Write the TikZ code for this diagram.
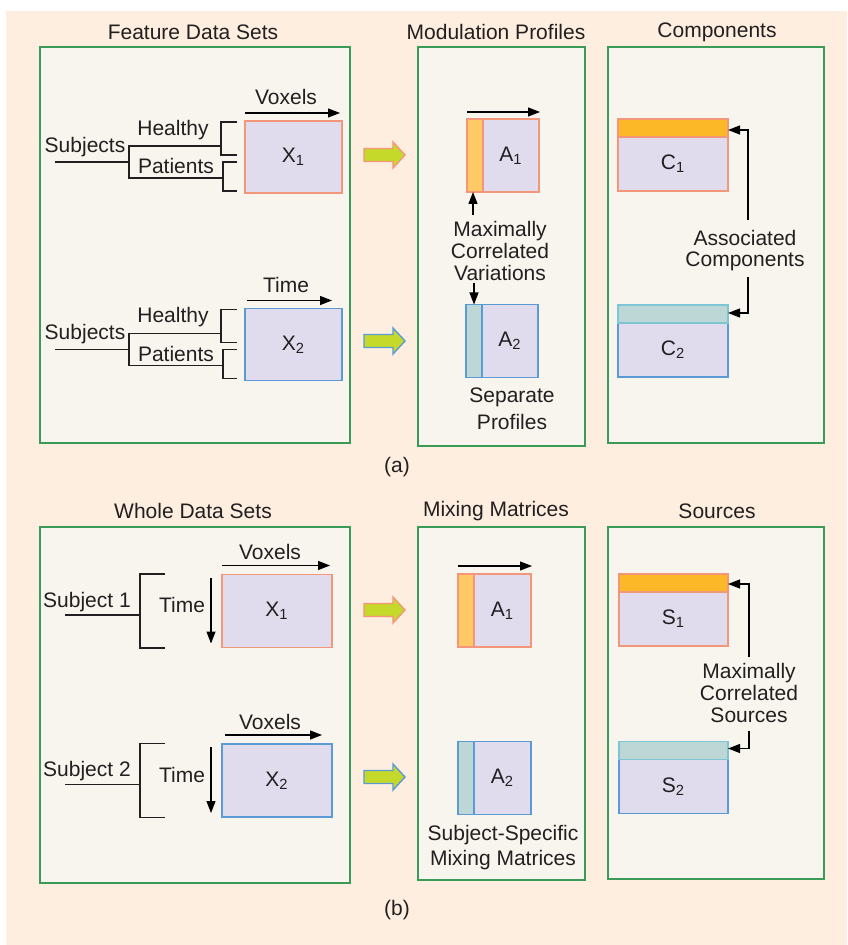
\documentclass[tikz,border=0pt]{standalone}
\usepackage{fontspec}
\setmainfont{Liberation Sans}
\usetikzlibrary{arrows.meta,calc}

\definecolor{peach}{HTML}{FDEEDF}
\definecolor{panelfill}{HTML}{F8F5EE}
\definecolor{panelgreen}{HTML}{3A9A57}
\definecolor{matfill}{HTML}{E0DCEE}
\definecolor{orangeline}{HTML}{F4967A}
\definecolor{blueline}{HTML}{5B9BD5}
\definecolor{cyanline}{HTML}{7CC6D6}
\definecolor{stripA}{HTML}{FFC966}
\definecolor{headC}{HTML}{FDB827}
\definecolor{stripB}{HTML}{BDD6D6}
\definecolor{arrowgreen}{HTML}{C5D92B}
\definecolor{txtgray}{HTML}{231F20}

\newcommand{\lblfont}{\fontsize{10.5}{10.8}\selectfont}

\tikzset{
  panel/.style={draw=panelgreen, fill=panelfill, line width=0.6pt},
  matbox/.style={fill=matfill, line width=0.7pt, inner sep=0pt, outer sep=0pt},
  lbl/.style={font=\lblfont, text=txtgray, inner sep=0pt},
  tree/.style={line width=0.65pt, draw=txtgray},
  arr/.style={-{Triangle[length=6pt,width=4.5pt]}, line width=0.6pt, draw=black},
  fatarrow/.style={fill=arrowgreen, line width=0.7pt, line join=miter}
}

\begin{document}
\begin{tikzpicture}[x=0.5pt, y=-0.5pt]
    \useasboundingbox (0,0) rectangle (847,945);
    \fill[peach] (6,11) rectangle (847,945);

    % panels and titles
    \foreach \xa/\ya/\xb/\yb in {40/47/350/443, 418/47/585/446, 608/47/824/443,
                                 40/527/350/883, 418/527/585/880, 608/527/824/879}
        \draw[panel] (\xa,\ya) rectangle (\xb,\yb);

    \node[lbl] (tFeat) at (193,32) {Feature Data Sets};
    \node[lbl] (tMod) at (496,32) {Modulation Profiles};
    \node[lbl] (tComp) at (717,32) {Components};
    \node[lbl] (tWhole) at (193,511) {Whole Data Sets};
    \node[lbl] (tMix) at (496,511) {Mixing Matrices};
    \node[lbl] (tSrc) at (717,511) {Sources};
    \node[lbl] (capA) at (397,467) {(a)};
    \node[lbl] (capB) at (397,910) {(b)};

    % green arrows between panels
    \foreach \cy/\col in {155/orangeline, 341/blueline, 610/orangeline, 777/blueline}
        \draw[fatarrow, draw=\col] (364,\cy-6.5) -- (393,\cy-6.5) -- (393,\cy-13) -- (405,\cy)
            -- (393,\cy+13) -- (393,\cy+6.5) -- (364,\cy+6.5) -- cycle;

    % (a) feature data sets
    \foreach \i/\oy/\col/\ax/\xs/\xe in {1/0/orangeline/Voxels/0pt/-1pt, 2/187.5/blueline/Time/1pt/-5pt} {
        \node[matbox, draw=\col, minimum width=48.5pt, minimum height=36pt] (fX\i) at (293.5,157+\oy) {};
        \node[lbl] (fXl\i) at (fX\i.center) {X\textsubscript{\i}};
        \node[lbl] (fAx\i) at (286,97+\oy) {\ax};
        \draw[arr] ([xshift=\xs,yshift=4pt]fX\i.north west) -- ([xshift=\xe,yshift=4pt]fX\i.north east);
        \node[lbl] (fSub\i) at (85,147+\oy) {Subjects};
        \node[lbl] (fHea\i) at (173,130+\oy) {Healthy};
        \node[lbl] (fPat\i) at (176,166+\oy) {Patients};
        \draw[tree] (55,162+\oy) -- (129,162+\oy);
        \draw[tree] (221,146+\oy) -- (129,146+\oy) -- (129,178+\oy) -- (223,178+\oy);
        \draw[tree] (237,122+\oy) -- (221,122+\oy) -- (221,155+\oy) -- (237,155+\oy);
        \draw[tree] (237,162+\oy) -- (223,162+\oy) -- (223,191+\oy) -- (237,191+\oy);
    }

    % (a) modulation profiles
    \foreach \i/\cx/\cy/\col/\sc in {1/503/155.5/orangeline/stripA, 2/502/341/blueline/stripB} {
        \node[matbox, draw=\col, minimum width=36pt, minimum height=36.5pt] (mA\i) at (\cx,\cy) {};
        \draw[fill=\sc, draw=\col, line width=0.7pt] (mA\i.north west) rectangle ([xshift=8pt]mA\i.south west);
        \node[lbl] (mAl\i) at ([xshift=4pt]mA\i.center) {A\textsubscript{\i}};
    }
    \draw[arr] ([yshift=3.5pt]mA1.north west) -- ([xshift=0.5pt,yshift=3.5pt]mA1.north east);
    \node[lbl, align=center] (mVar) at (500,251) {Maximally\\Correlated\\Variations};
    \coordinate (mTip1) at ([xshift=3pt]mA1.south west);
    \coordinate (mTip2) at ([xshift=4pt]mA2.north west);
    \coordinate (mVarTop) at ([yshift=3pt]mVar.north);
    \coordinate (mVarBot) at ([yshift=-1pt]mVar.south);
    \draw[arr] (mVarTop -| mTip1) -- (mTip1);
    \draw[arr] (mVarBot -| mTip2) -- (mTip2);
    \node[lbl, align=center] (mSep) at (512,409) {Separate\\[2.5pt]Profiles};

    % (a) components
    \foreach \i/\cy/\col/\hc/\hl in {1/155/orangeline/headC/orangeline, 2/341/blueline/stripB/cyanline} {
        \node[matbox, draw=\col, minimum width=55pt, minimum height=36pt] (C\i) at (673,\cy) {};
        \draw[fill=\hc, draw=\hl, line width=0.7pt] (C\i.north west) rectangle ([yshift=-9pt]C\i.north east);
        \node[lbl] (Cl\i) at ([yshift=-4.5pt]C\i.center) {C\textsubscript{\i}};
    }
    \node[lbl, align=center] (cAsc) at (745,250.5) {Associated\\Components};
    \draw[arr] ([xshift=1.5pt,yshift=5pt]cAsc.north) |- ([yshift=-5.5pt]C1.north east);
    \draw[arr] ([xshift=1.5pt,yshift=-3pt]cAsc.south) |- ([yshift=-4pt]C2.north east);

    % (b) whole data sets
    \foreach \i/\oy/\col/\xs/\xe in {1/0/orangeline/0pt/-1pt, 2/169.5/blueline/1.5pt/-5pt} {
        \node[matbox, draw=\col, minimum width=55pt, minimum height=36.5pt] (wX\i) at (277,611+\oy) {};
        \node[lbl] (wXl\i) at (wX\i.center) {X\textsubscript{\i}};
        \node[lbl] (wAx\i) at (270,552+\oy) {Voxels};
        \draw[arr] ([xshift=\xs,yshift=4.5pt]wX\i.north west) -- ([xshift=\xe,yshift=4.5pt]wX\i.north east);
        \node[lbl] (wSub\i) at (87,602+\oy) {Subject \i};
        \node[lbl] (wTim\i) at (182,605+\oy) {Time};
        \draw[tree] (65,615+\oy) -- (140,615+\oy);
        \draw[tree] (165,574+\oy) -- (140,574+\oy) -- (140,648+\oy) -- (165,648+\oy);
        \draw[arr] ([xshift=-5.5pt,yshift=-1.5pt]wX\i.north west) -- ([xshift=-5.5pt,yshift=2pt]wX\i.south west);
    }

    % (b) mixing matrices
    \foreach \i/\cy/\col/\sc in {1/610.5/orangeline/stripA, 2/778/blueline/stripB} {
        \node[matbox, draw=\col, minimum width=36.5pt, minimum height=36.5pt] (xA\i) at (494.5,\cy) {};
        \draw[fill=\sc, draw=\col, line width=0.7pt] (xA\i.north west) rectangle ([xshift=8pt]xA\i.south west);
        \node[lbl] (xAl\i) at ([xshift=4pt]xA\i.center) {A\textsubscript{\i}};
    }
    \draw[arr] ([yshift=4pt]xA1.north west) -- ([xshift=0.5pt,yshift=4pt]xA1.north east);
    \node[lbl, align=center] (xSub) at (503,847.5) {Subject-Specific\\[2pt]Mixing Matrices};

    % (b) sources
    \foreach \i/\cy/\col/\hc/\hl in {1/610/orangeline/headC/orangeline, 2/777.5/blueline/stripB/cyanline} {
        \node[matbox, draw=\col, minimum width=54.5pt, minimum height=36pt] (S\i) at (673.5,\cy) {};
        \draw[fill=\hc, draw=\hl, line width=0.7pt] (S\i.north west) rectangle ([yshift=-9pt]S\i.north east);
        \node[lbl] (Sl\i) at ([yshift=-4.5pt]S\i.center) {S\textsubscript{\i}};
    }
    \node[lbl, align=center] (sMax) at (749,693) {Maximally\\Correlated\\Sources};
    \draw[arr] ([yshift=3pt]sMax.north) |- ([yshift=-5pt]S1.north east);
    \draw[arr] ([yshift=-4pt]sMax.south) |- ([yshift=-3.5pt]S2.north east);
\end{tikzpicture}
\end{document}
